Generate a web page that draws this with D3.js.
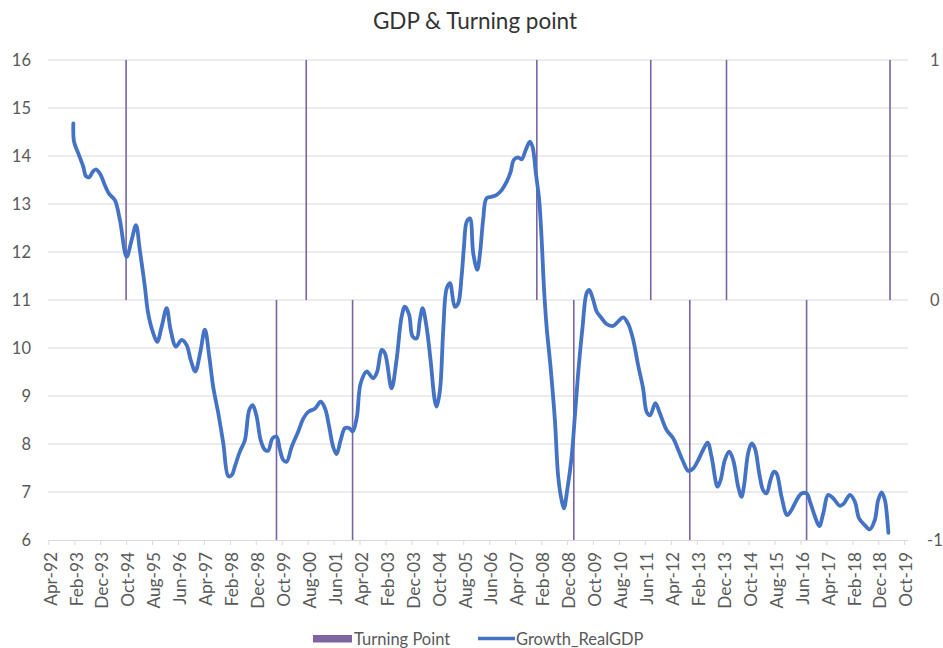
<!DOCTYPE html>
<html>
<head>
<meta charset="utf-8">
<script src="https://cdn.jsdelivr.net/npm/d3@7"></script>
<style>
  html, body { margin: 0; padding: 0; background: #ffffff; }
  svg { display: block; font-family: Lato, "Open Sans", sans-serif; }
</style>
</head>
<body>
<svg id="chart" width="943" height="648"></svg>
<script>
// Real GDP growth series (%)
const gdpDates = [
  "1993-01-20","1993-01-28","1993-03-18","1993-05-16","1993-06-17","1993-07-25","1993-09-04","1993-10-12","1993-11-29",
  "1994-01-27","1994-03-16","1994-05-22","1994-07-20","1994-10-07","1994-12-05",
  "1995-01-25","1995-03-11","1995-05-09","1995-06-17","1995-08-15","1995-10-01","1995-11-22",
  "1996-01-20","1996-03-06","1996-05-08","1996-07-14","1996-09-11","1996-10-28","1996-12-21",
  "1997-02-15","1997-04-13","1997-06-03","1997-07-19","1997-09-17","1997-11-15",
  "1998-01-13","1998-02-22","1998-03-30","1998-05-28","1998-07-26","1998-09-15","1998-10-25","1998-12-11",
  "1999-01-27","1999-03-17","1999-04-25","1999-06-16","1999-08-02","1999-09-10","1999-10-19","1999-11-28",
  "2000-01-26","2000-04-12","2000-06-10","2000-08-08","2000-10-26",
  "2001-01-01","2001-02-21","2001-04-10","2001-05-27","2001-07-06","2001-08-23","2001-10-12","2001-12-02",
  "2002-01-11","2002-02-28","2002-04-14","2002-06-23","2002-09-09","2002-10-26","2002-12-17",
  "2003-01-25","2003-04-12","2003-06-10","2003-08-08","2003-09-16","2003-11-05","2003-12-15",
  "2004-02-01","2004-03-09","2004-04-11","2004-05-27","2004-07-13","2004-09-03","2004-09-23","2004-11-01","2004-12-09",
  "2005-01-18","2005-02-26","2005-04-24","2005-06-02","2005-07-12","2005-08-09","2005-09-10","2005-10-18","2005-11-26",
  "2006-01-12","2006-02-13","2006-03-22","2006-05-01","2006-06-29","2006-08-27","2006-10-25","2006-12-22",
  "2007-02-08","2007-03-17","2007-05-07","2007-06-16","2007-08-05","2007-09-22","2007-10-23","2007-12-01",
  "2008-01-09","2008-02-07","2008-03-04","2008-04-05","2008-05-21","2008-07-11","2008-08-19","2008-09-28","2008-10-25","2008-12-03",
  "2009-01-24","2009-03-02","2009-04-10","2009-06-01","2009-07-18","2009-08-18","2009-10-04","2009-11-13",
  "2010-01-11","2010-03-09","2010-05-25","2010-07-23","2010-09-21","2010-11-19",
  "2011-01-16","2011-03-14","2011-05-12","2011-06-25","2011-08-03","2011-10-03","2011-11-25",
  "2012-02-12","2012-04-29","2012-06-27","2012-08-25","2012-10-23","2012-12-20",
  "2013-02-18","2013-04-16","2013-06-07","2013-07-23","2013-10-02","2013-11-07","2013-12-27",
  "2014-02-16","2014-04-03","2014-06-01","2014-07-10","2014-08-07","2014-09-26","2014-11-05","2014-12-14",
  "2015-02-03","2015-03-20","2015-04-29","2015-06-15","2015-07-24","2015-08-25","2015-10-23","2015-12-28",
  "2016-02-18","2016-04-16","2016-06-14","2016-08-12","2016-09-28","2016-11-18",
  "2017-01-08","2017-02-24","2017-04-22","2017-06-20","2017-09-07","2017-10-23",
  "2018-01-03","2018-03-01","2018-04-20","2018-06-26","2018-08-24","2018-10-22","2018-11-30",
  "2019-01-09","2019-02-17","2019-03-14","2019-03-30"
];
const gdpGrowth = [
  14.68,14.30,14.06,13.78,13.58,13.56,13.67,13.72,13.63,
  13.38,13.21,13.08,12.67,11.90,12.25,
  12.56,12.04,11.28,10.72,10.31,10.13,10.44,
  10.83,10.38,10.03,10.17,10.06,9.75,9.51,
  9.89,10.38,9.82,9.19,8.64,8.01,
  7.33,7.35,7.53,7.84,8.08,8.71,8.81,8.57,
  8.08,7.88,7.86,8.12,8.15,7.88,7.67,7.63,
  7.94,8.26,8.53,8.67,8.74,
  8.88,8.74,8.36,7.94,7.79,8.08,8.33,8.33,
  8.26,8.55,9.26,9.51,9.37,9.51,9.96,
  9.89,9.16,9.75,10.65,10.86,10.69,10.24,
  10.20,10.58,10.83,10.44,9.75,8.88,8.78,9.13,10.38,
  11.24,11.35,10.86,10.93,11.49,12.11,12.63,12.70,11.97,
  11.63,11.97,12.67,13.12,13.15,13.19,13.29,13.46,
  13.67,13.92,13.97,13.93,14.13,14.30,14.19,13.64,
  13.08,12.25,11.28,10.44,9.61,8.50,7.32,6.83,6.66,7.04,
  7.74,8.57,9.47,10.44,11.14,11.21,11.00,10.76,
  10.62,10.50,10.46,10.55,10.64,10.50,
  10.17,9.65,9.16,8.66,8.60,8.85,8.64,
  8.29,8.12,7.88,7.63,7.44,7.49,
  7.67,7.88,8.03,7.74,7.11,7.25,7.67,
  7.84,7.67,7.11,6.90,7.11,7.81,8.01,7.91,
  7.39,7.04,6.97,7.25,7.42,7.39,6.90,6.52,
  6.63,6.83,6.97,6.97,6.76,6.49,
  6.29,6.56,6.94,6.87,6.71,6.76,
  6.94,6.80,6.45,6.31,6.22,6.42,6.83,
  6.99,6.83,6.49,6.15
];

// Turning points: +1 peak, -1 trough
const turnDates = [
  "1994-10-01","1999-08-01","2000-07-15","2002-01-10","2007-12-12","2009-02-18",
  "2011-08-10","2012-11-10","2014-01-15","2016-08-12","2019-04-18"
];
const turnValues = [1, -1, 1, -1, 1, -1, 1, -1, 1, -1, 1];

// Axis ticks
const xTickLabels = [
  "Apr-92","Feb-93","Dec-93","Oct-94","Aug-95","Jun-96","Apr-97","Feb-98","Dec-98","Oct-99",
  "Aug-00","Jun-01","Apr-02","Feb-03","Dec-03","Oct-04","Aug-05","Jun-06","Apr-07","Feb-08",
  "Dec-08","Oct-09","Aug-10","Jun-11","Apr-12","Feb-13","Dec-13","Oct-14","Aug-15","Jun-16",
  "Apr-17","Feb-18","Dec-18","Oct-19"
];
const leftTicks = [6, 7, 8, 9, 10, 11, 12, 13, 14, 15, 16];
const rightTicks = [-1, 0, 1];

const parseDay = d3.timeParse("%Y-%m-%d");
const parseTick = d3.timeParse("%b-%y");

const svg = d3.select("#chart");
const plot = { left: 48.3, right: 908, top: 60, bottom: 540 };

const x = d3.scaleTime()
  .domain([new Date(1992, 3, 1), new Date(2019, 10, 15)])
  .range([plot.left, plot.right]);
const yL = d3.scaleLinear().domain([6, 16]).range([plot.bottom, plot.top]);
const yR = d3.scaleLinear().domain([-1, 1]).range([plot.bottom, plot.top]);

const gridColor = "#d9d9d9";
const labelColor = "#595959";

// Title
svg.append("text")
  .attr("x", 475).attr("y", 29)
  .attr("text-anchor", "middle")
  .attr("font-size", 22.5)
  .attr("fill", "#333333")
  .text("GDP & Turning point");

// Horizontal gridlines
svg.append("g").selectAll("line")
  .data(leftTicks.filter(d => d !== 6))
  .join("line")
  .attr("x1", plot.left).attr("x2", plot.right)
  .attr("y1", d => yL(d)).attr("y2", d => yL(d))
  .attr("stroke", gridColor).attr("stroke-width", 1);

// Left axis labels
svg.append("g").selectAll("text")
  .data(leftTicks)
  .join("text")
  .attr("x", 31).attr("y", d => yL(d))
  .attr("dy", "0.36em")
  .attr("text-anchor", "end")
  .attr("font-size", 16.5)
  .attr("fill", labelColor)
  .text(d => d);

// Right axis labels
svg.append("g").selectAll("text")
  .data(rightTicks)
  .join("text")
  .attr("x", d => d < 0 ? 927 : 930).attr("y", d => yR(d))
  .attr("dy", "0.36em")
  .attr("text-anchor", "start")
  .attr("font-size", 16.5)
  .attr("fill", labelColor)
  .text(d => d);

// Bottom date axis
const tickDates = xTickLabels.map(parseTick);
const xAxis = d3.axisBottom(x)
  .tickValues(tickDates)
  .tickSize(5)
  .tickFormat((d, i) => xTickLabels[i]);
const gx = svg.append("g")
  .attr("transform", `translate(0,${plot.bottom})`)
  .call(xAxis);
gx.select(".domain").remove();
gx.append("line")
  .attr("x1", plot.left).attr("x2", plot.right)
  .attr("y1", 0.5).attr("y2", 0.5)
  .attr("stroke", gridColor);
gx.selectAll(".tick line").attr("stroke", gridColor);
gx.selectAll(".tick text")
  .attr("font-family", "Lato, 'Open Sans', sans-serif")
  .attr("font-size", 17.3)
  .attr("fill", labelColor)
  .attr("text-anchor", "end")
  .attr("transform", "rotate(-90)")
  .attr("x", -12)
  .attr("y", 1.5)
  .attr("dy", "0.36em");

// Turning point columns (secondary axis)
const turns = turnDates.map((d, i) => ({ date: parseDay(d), value: turnValues[i] }));
svg.append("g").selectAll("rect")
  .data(turns)
  .join("rect")
  .attr("x", d => x(d.date) - 0.8)
  .attr("width", 1.6)
  .attr("y", d => Math.min(yR(0), yR(d.value)))
  .attr("height", d => Math.abs(yR(d.value) - yR(0)))
  .attr("fill", "#7a64a3");

// GDP growth line
const series = gdpDates.map((d, i) => ({ date: parseDay(d), value: gdpGrowth[i] }));
const line = d3.line()
  .x(d => x(d.date))
  .y(d => yL(d.value))
  .curve(d3.curveCatmullRom.alpha(0.5));
svg.append("path")
  .datum(series)
  .attr("d", line)
  .attr("fill", "none")
  .attr("stroke", "#4472c4")
  .attr("stroke-width", 3.8)
  .attr("stroke-linejoin", "round")
  .attr("stroke-linecap", "round");

// Legend
const legend = svg.append("g").attr("font-size", 16.5).attr("fill", labelColor);
legend.append("rect")
  .attr("x", 313).attr("y", 635).attr("width", 39).attr("height", 7.5)
  .attr("fill", "#8064a2");
legend.append("text")
  .attr("x", 354).attr("y", 644.5)
  .text("Turning Point");
legend.append("line")
  .attr("x1", 478).attr("x2", 515).attr("y1", 638.5).attr("y2", 638.5)
  .attr("stroke", "#4472c4").attr("stroke-width", 3.5);
legend.append("text")
  .attr("x", 516).attr("y", 644.5)
  .text("Growth_RealGDP");
</script>
</body>
</html>
